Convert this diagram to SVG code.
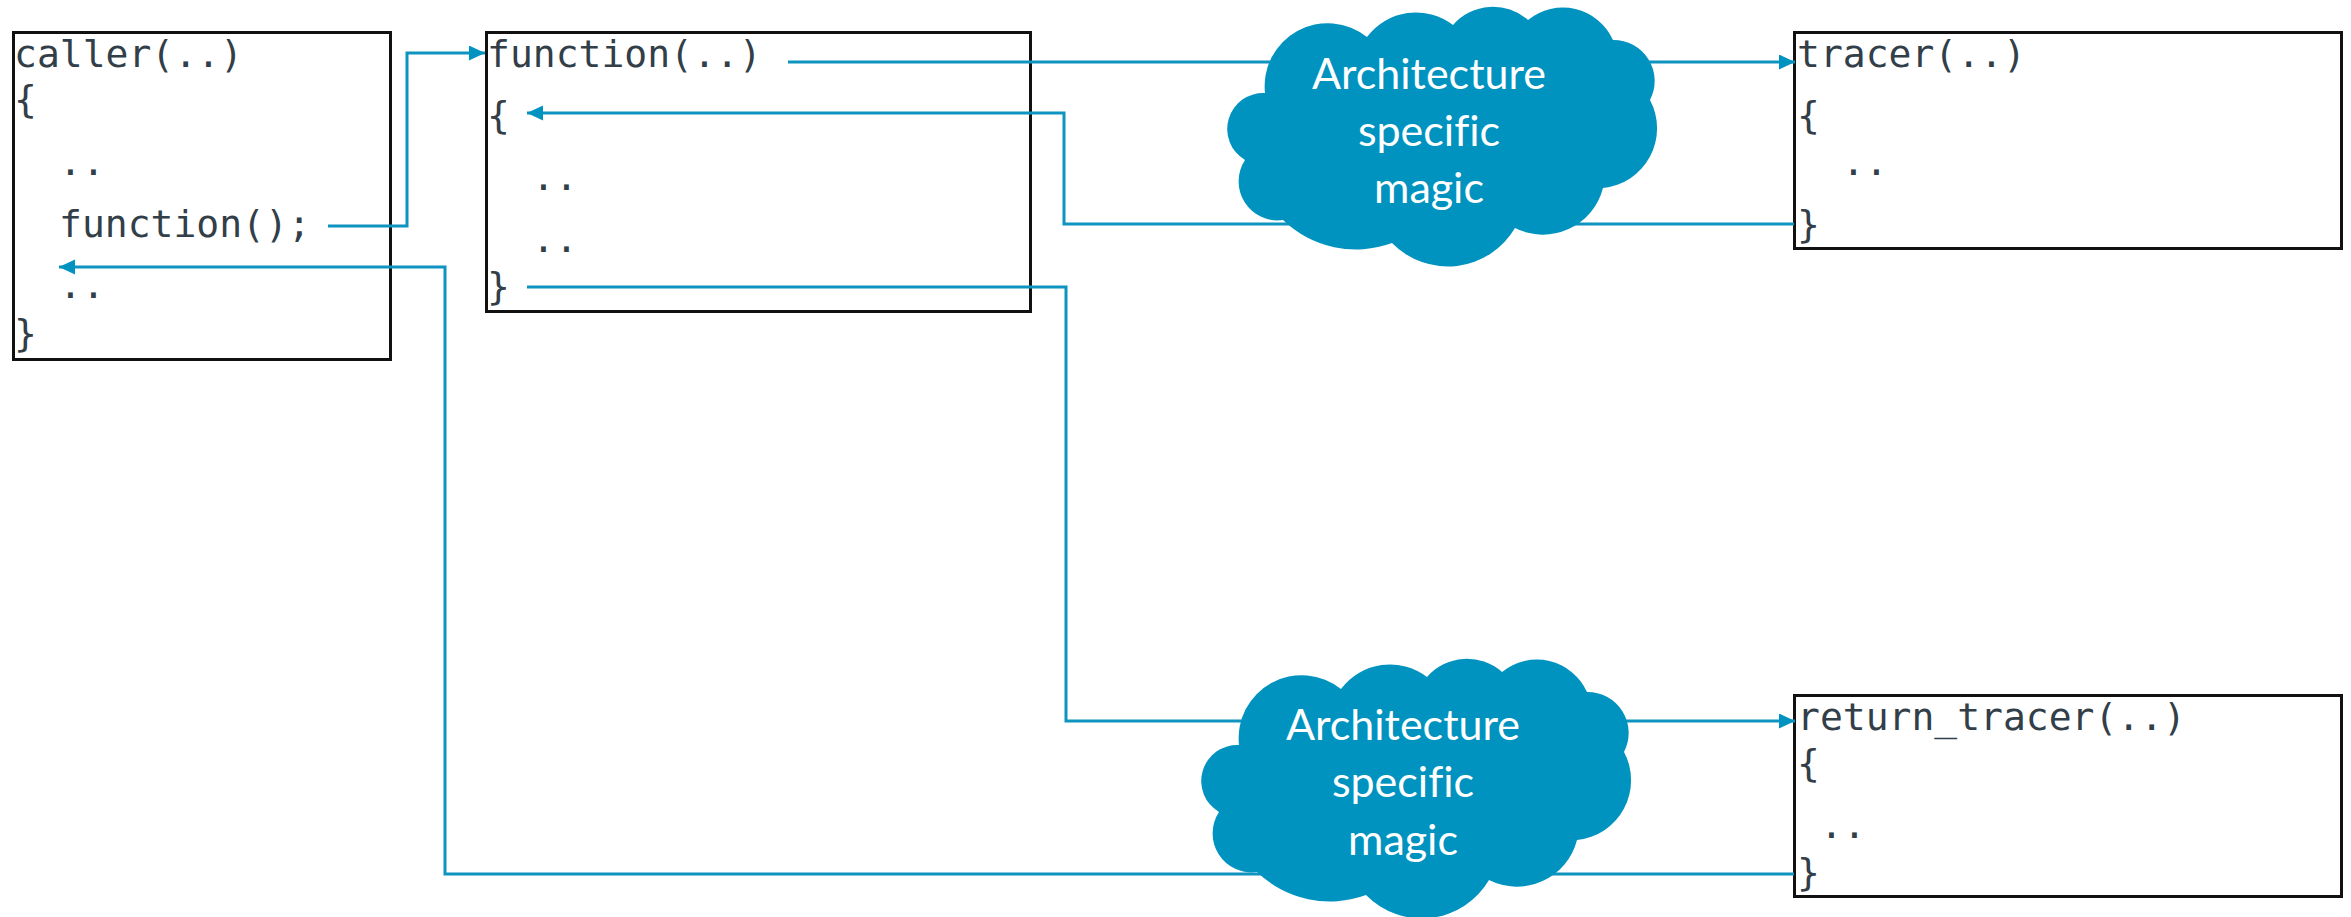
<svg xmlns="http://www.w3.org/2000/svg" xmlns:xlink="http://www.w3.org/1999/xlink" width="2351" height="917" viewBox="0 0 2351 917">
<style>
.box{fill:none;stroke:#111;stroke-width:3}
.code{font-family:"DejaVu Sans Mono","Liberation Mono",monospace;font-size:38px;fill:#323E48}
.conn{fill:none;stroke:#0E94C0;stroke-width:3}
.cloud{fill:#0093BF}
.ctext{font-family:Lato,"Open Sans",sans-serif;font-size:43px;fill:#fff;text-anchor:middle;font-variant-ligatures:none}
</style>
<defs>
<marker id="arr" markerUnits="userSpaceOnUse" markerWidth="18" markerHeight="16" refX="16" refY="7.5" orient="auto">
<path d="M0,0 L16,7.5 L0,15 Z" fill="#0093BF"/>
</marker>
<path id="cloudShape" d="M1265,93 A36,36 0 0 0 1245,160 A39,39 0 0 0 1283,220 A105,105 0 0 0 1392,243 A78,78 0 0 0 1515,228 A62,62 0 0 0 1603,188 A60,60 0 0 0 1650,100 A41,41 0 0 0 1613,40 A55,55 0 0 0 1528,20 A53,53 0 0 0 1453,25 A61,61 0 0 0 1367,37 A63,63 0 0 0 1265,93 Z"/>
</defs>
<rect width="2351" height="917" fill="#fff"/>

<g id="caller">
<rect class="box" x="13.5" y="32.5" width="377" height="327"/>
<text class="code" x="14" y="67">caller(..)</text>
<text class="code" x="14" y="112">{</text>
<text class="code" x="59" y="175">..</text>
<text class="code" x="59" y="237">function();</text>
<text class="code" x="59" y="298">..</text>
<text class="code" x="14" y="346">}</text>
</g>

<g id="function">
<rect class="box" x="486.5" y="32.5" width="544" height="279"/>
<text class="code" x="487" y="67">function(..)</text>
<text class="code" x="487" y="128">{</text>
<text class="code" x="532" y="190">..</text>
<text class="code" x="532" y="252">..</text>
<text class="code" x="487" y="299">}</text>
</g>

<g id="tracer">
<rect class="box" x="1794.5" y="32.5" width="547" height="216"/>
<text class="code" x="1797" y="67">tracer(..)</text>
<text class="code" x="1797" y="128">{</text>
<text class="code" x="1842" y="175">..</text>
<text class="code" x="1797" y="237">}</text>
</g>

<g id="return_tracer">
<rect class="box" x="1794.5" y="695.5" width="547" height="201"/>
<text class="code" x="1797" y="730">return_tracer(..)</text>
<text class="code" x="1797" y="776">{</text>
<text class="code" x="1820" y="838">..</text>
<text class="code" x="1797" y="885">}</text>
</g>

<g id="connectors">
<path class="conn" d="M328,226 H407 V53 H485" marker-end="url(#arr)"/>
<path class="conn" d="M788,62 H1795" marker-end="url(#arr)"/>
<path class="conn" d="M1794,224 H1064 V113 H527" marker-end="url(#arr)"/>
<path class="conn" d="M527,287 H1066 V721 H1795" marker-end="url(#arr)"/>
<path class="conn" d="M1794,874 H445 V267 H59" marker-end="url(#arr)"/>
</g>

<g id="magic1">
<use xlink:href="#cloudShape" class="cloud"/>
<text class="ctext" x="1429" y="89">Architecture</text>
<text class="ctext" x="1429" y="146">specific</text>
<text class="ctext" x="1429" y="203">magic</text>
</g>

<g id="magic2">
<use xlink:href="#cloudShape" class="cloud" transform="translate(-26,652)"/>
<text class="ctext" x="1403" y="740">Architecture</text>
<text class="ctext" x="1403" y="797">specific</text>
<text class="ctext" x="1403" y="855">magic</text>
</g>
</svg>
